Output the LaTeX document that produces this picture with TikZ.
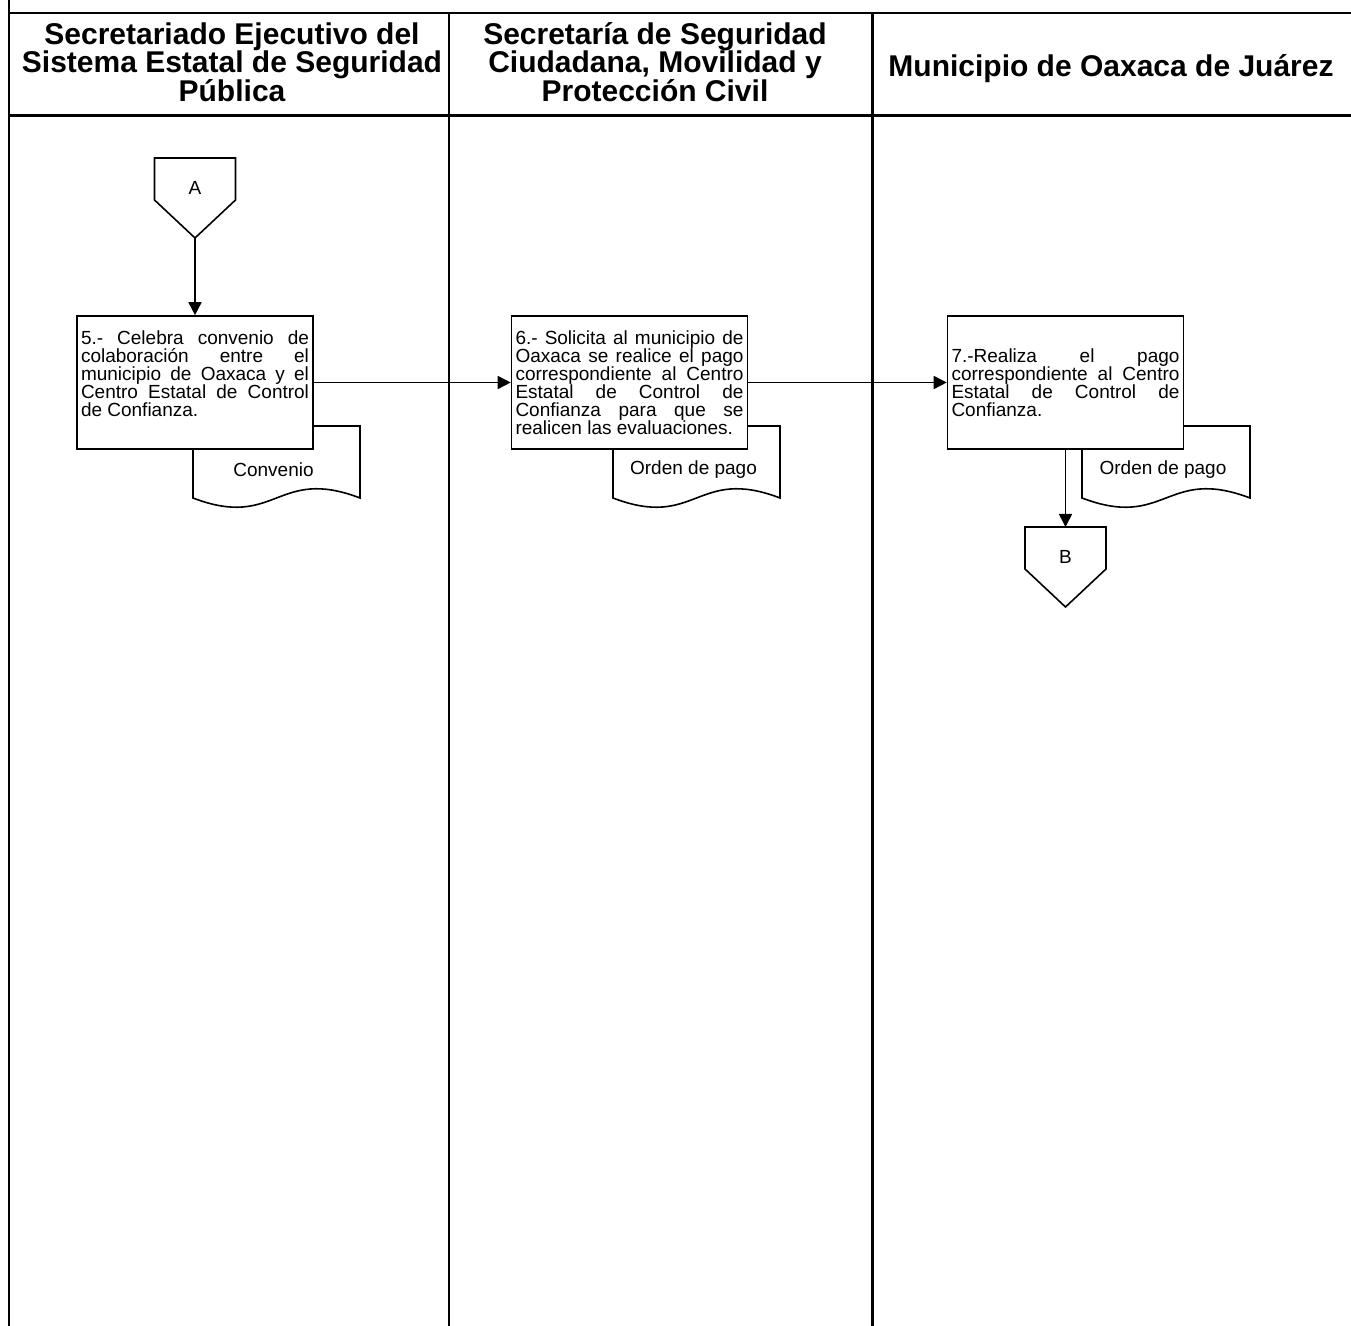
\documentclass[tikz,border=0pt]{standalone}
\usepackage{fontspec}
\setmainfont{Liberation Sans}
\usetikzlibrary{arrows.meta,positioning,calc}

\tikzset{
  lane/.style={line width=1.4pt},
  lanehead/.style={font=\fontsize{15}{14.25}\selectfont\bfseries,align=center},
  actbox/.style={draw,line width=0.8pt,fill=white,text width=114pt,inner xsep=2pt,inner ysep=0pt,
    minimum height=66.5pt,align=justify,font=\fontsize{9.5}{9}\selectfont},
  docshape/.style={draw,line width=0.8pt,fill=white},
  offpage/.style={draw,line width=0.8pt,fill=white},
  conn/.style={line width=0.8pt,-{Triangle[length=6.5pt,width=6.5pt]}},
  lbl/.style={font=\fontsize{9.5}{9}\selectfont,inner sep=0pt}
}

\begin{document}
\begin{tikzpicture}[x=0.5pt,y=-0.5pt]
  \useasboundingbox (0,0) rectangle (1351,1326);
  % swimlanes
  \draw[lane] (9,0) -- (9,1326);
  \draw[lane] (9,13) -- (1351,13);
  \draw[lane] (9,115.5) -- (1351,115.5);
  \foreach \lx in {449,872.5}{
    \draw[lane] (\lx,13) -- (\lx,1326);
  }
  \node[lanehead] (h1) at (232,62) {Secretariado Ejecutivo del\\Sistema Estatal de Seguridad\\Pública};
  \node[lanehead] (h2) at (655,62) {Secretaría de Seguridad\\Ciudadana, Movilidad y\\Protección Civil};
  \node[lanehead] (h3) at (1111,69) {Municipio de Oaxaca de Juárez};

  % documents behind the activity boxes
  \foreach \nm/\dl/\dw/\txt in {doc5/193/167/Convenio, doc6/613/167/{Orden de pago}, doc7/1082/168/{Orden de pago}}{
    \draw[docshape] (\dl,426) -- (\dl+\dw,426) -- (\dl+\dw,498)
      .. controls (\dl+0.5*\dw,466) and (\dl+0.5*\dw,530) .. (\dl,498) -- cycle;
    \node[lbl] (\nm) at (\dl+0.5*\dw-3,470) {\txt};
  }

  % off-page connectors
  \foreach \nm/\cx/\cy in {A/195/158, B/1065.5/527}{
    \draw[offpage] (\cx-40.5,\cy) -- (\cx+40.5,\cy) -- (\cx+40.5,\cy+42) -- (\cx,\cy+80)
      -- (\cx-40.5,\cy+42) -- cycle;
    \node[lbl] (\nm) at (\cx,\cy+30) {\nm};
    \coordinate (\nm-top) at (\cx,\cy);
    \coordinate (\nm-tip) at (\cx,\cy+80);
  }

  % activities
  \node[actbox] (b5) at (195,382.5) {5.- Celebra convenio de\linebreak colaboración entre el\linebreak
    municipio de Oaxaca y el\linebreak Centro Estatal de Control\linebreak de Confianza.\par\mbox{}};
  \node[actbox] (b6) at (629.5,382.5) {6.- Solicita al municipio de\linebreak Oaxaca se realice el pago\linebreak
    correspondiente al Centro\linebreak Estatal de Control de\linebreak Confianza para que se\linebreak
    realicen las evaluaciones.};
  \node[actbox] (b7) at (1065.5,382.5) {7.-Realiza el pago\linebreak correspondiente al Centro\linebreak
    Estatal de Control de\linebreak Confianza.};

  \draw[conn] (A-tip) -- (b5);
  \draw[conn] (b5) -- (b6);
  \draw[conn] (b6) -- (b7);
  \draw[conn] (b7) -- (B-top);
\end{tikzpicture}
\end{document}
